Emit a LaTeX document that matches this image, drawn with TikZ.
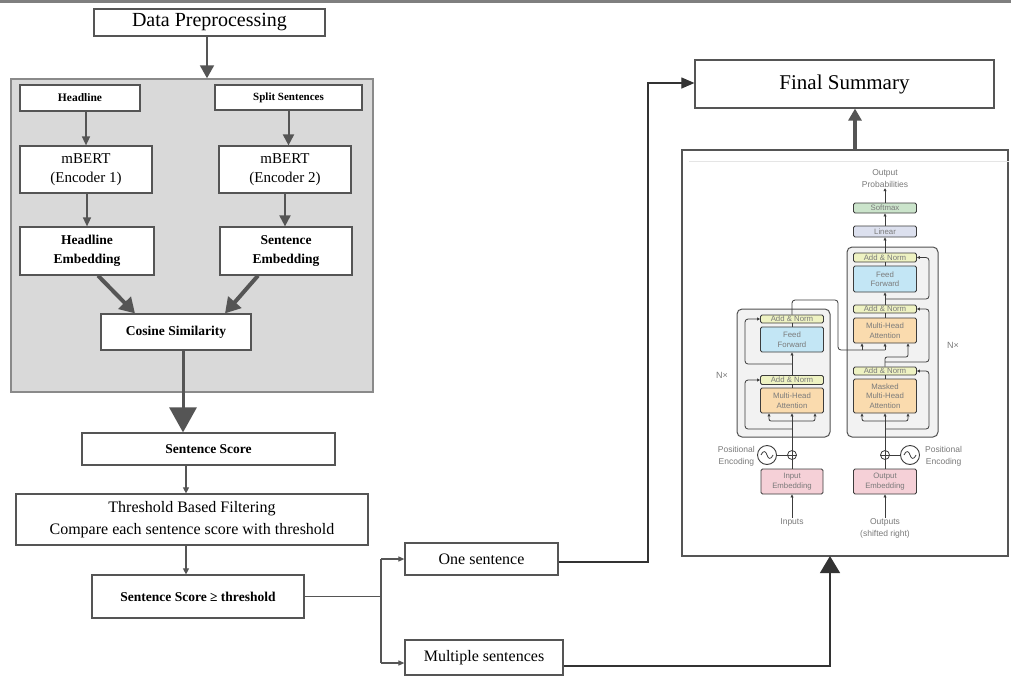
\documentclass[tikz,border=0pt]{standalone}
\usepackage{fontspec}
\setmainfont{Liberation Serif}
\setsansfont{Liberation Sans}
\usetikzlibrary{arrows.meta}
\definecolor{edge}{HTML}{555555}
\definecolor{framefill}{HTML}{D9D9D9}
\definecolor{frameedge}{HTML}{8A8A8A}
\definecolor{band}{HTML}{7F7F7F}
\definecolor{tgray}{HTML}{7A7A7A}
\definecolor{tedge}{HTML}{3C3C3C}
\definecolor{cAN}{HTML}{EEF2C2}
\definecolor{cFF}{HTML}{C3E6F5}
\definecolor{cMHA}{HTML}{FADBAE}
\definecolor{cLin}{HTML}{DCE0EE}
\definecolor{cSoft}{HTML}{CBE4CB}
\definecolor{cEmb}{HTML}{F5D0D7}
\definecolor{cOuter}{HTML}{F2F2F2}
\tikzset{
  box/.style={draw=edge, line width=1.2pt, fill=white, inner sep=1pt, align=center},
  arrA/.style={draw=edge, line width=2pt, -{Triangle[width=14pt,length=13pt]}},
  arrThin/.style={draw=edge, line width=1.5pt, -{Triangle[width=8pt,length=9pt]}},
  arrMid/.style={draw=edge, line width=2pt, -{Triangle[width=11pt,length=11pt]}},
  arrThick/.style={draw=edge, line width=4pt, -{Triangle[width=17pt,length=15pt]}},
  arrBig/.style={draw=edge, line width=3pt, -{Triangle[width=27pt,length=25pt]}},
  arrSm/.style={draw=edge, line width=1.1pt, -{Triangle[width=6pt,length=6pt]}},
  arrBr/.style={draw=edge, line width=1.1pt, -{Triangle[width=5pt,length=6pt]}},
  arrBlk/.style={draw=black!80, line width=1.1pt, -{Triangle[width=11pt,length=13pt]}},
  arrBlkBig/.style={draw=black!80, line width=1.3pt, -{Triangle[width=20pt,length=17pt]}},
  arrUp/.style={draw=edge, line width=3.5pt, -{Triangle[width=13pt,length=12pt]}},
  tblock/.style={draw=tedge, line width=0.9pt, rounded corners=1.5pt, inner sep=0pt,
     minimum width=63pt, align=center, text=tgray, font=\sffamily\fontsize{7.8}{9.5}\selectfont},
  touter/.style={draw=tedge!90, line width=1pt, rounded corners=5pt, fill=cOuter, inner sep=0pt},
  tlabel/.style={text=tgray, align=center, inner sep=0pt, font=\sffamily\fontsize{8.5}{12}\selectfont},
  tline/.style={draw=tedge, line width=0.8pt},
  tarr/.style={draw=tedge, line width=0.8pt, -{Triangle[width=3pt,length=3pt]}},
}
\begin{document}
\begin{tikzpicture}[x=1pt,y=-1pt]
\useasboundingbox (0,0) rectangle (1011,677);
\fill[white] (0,0) rectangle (1011,677);
\fill[band] (0,0) rectangle (1011,3);

% ---------- left pipeline ----------
\node[box, minimum width=231pt, minimum height=27pt, font=\fontsize{20}{22}\selectfont] (dp) at (209.5,22.5) {Data Preprocessing};
\node[draw=frameedge, fill=framefill, line width=1.5pt, minimum width=362pt, minimum height=313pt, inner sep=0pt] (frame) at (192,235.5) {};

\node[box, minimum width=120pt, minimum height=26pt, font=\bfseries\fontsize{11.5}{12}\selectfont] (hl) at (80,98) {Headline};
\node[box, minimum width=147pt, minimum height=25pt, font=\bfseries\fontsize{11}{12}\selectfont] (ss) at (288.5,97.5) {Split Sentences};
\node[box, minimum width=132pt, minimum height=47pt, font=\fontsize{15}{19}\selectfont] (m1) at (86,169.5) {mBERT\\(Encoder 1)};
\node[box, minimum width=132pt, minimum height=47pt, font=\fontsize{15}{19}\selectfont] (m2) at (285,169.5) {mBERT\\(Encoder 2)};
\node[box, minimum width=134pt, minimum height=48pt, font=\bfseries\fontsize{13.5}{19}\selectfont] (he) at (87,251) {Headline\\Embedding};
\node[box, minimum width=132pt, minimum height=48pt, font=\bfseries\fontsize{13.5}{19}\selectfont] (se) at (286,251) {Sentence\\Embedding};
\node[box, minimum width=150pt, minimum height=36pt, font=\bfseries\fontsize{13.5}{14}\selectfont] (cs) at (176,332) {Cosine Similarity};
\node[box, minimum width=253pt, minimum height=32pt, font=\bfseries\fontsize{13.5}{14}\selectfont] (sc) at (208.5,449) {Sentence Score};
\node[box, minimum width=352pt, minimum height=51pt, font=\fontsize{16}{22}\selectfont] (th) at (192,519.5) {Threshold Based Filtering\\Compare each sentence score with threshold};
\node[box, minimum width=212pt, minimum height=43pt, font=\bfseries\fontsize{13.5}{14}\selectfont] (ge) at (198,596.5) {Sentence Score ≥ threshold};
\node[box, minimum width=153pt, minimum height=32pt, font=\fontsize{16}{19}\selectfont] (one) at (481.5,559) {One sentence};
\node[box, minimum width=158pt, minimum height=35pt, font=\fontsize{16}{19}\selectfont] (mul) at (484,657.5) {Multiple sentences};
\node[box, minimum width=299pt, minimum height=48pt, font=\fontsize{21}{24}\selectfont] (fs) at (844.5,84) {Final Summary};
\node[box, minimum width=326pt, minimum height=406pt] (tr) at (845,353) {};
\draw[black!10, line width=0.8pt] ([xshift=8pt,yshift=-12pt]tr.north west) -- ([yshift=-12pt]tr.north east);

% left arrows
\draw[arrA] ([xshift=-2.5pt]dp.south) -- ([xshift=-2.5pt]dp.south |- frame.north);
\draw[arrThin] (hl.south -| m1.north) -- (m1.north);
\draw[arrMid] (ss.south) -- (ss.south |- m2.north);
\draw[arrThin] ([xshift=1pt]m1.south) -- ([xshift=1pt]m1.south |- he.north);
\draw[arrMid] (m2.south) -- (m2.south |- se.north);
\draw[arrThick] ([xshift=11pt]he.south) -- ([xshift=-41pt]cs.north);
\draw[arrThick] ([xshift=-28pt]se.south) -- ([xshift=49pt]cs.north);
\draw[arrBig] ([xshift=7pt]cs.south) -- ([xshift=7pt]cs.south |- sc.north);
\draw[arrSm] ([xshift=-22.5pt]sc.south) -- ([xshift=-22.5pt]sc.south |- th.north);
\draw[arrSm] ([xshift=-6pt]th.south) -- ([xshift=-6pt]th.south |- ge.north);

% branch
\coordinate (br) at (381,596.5);
\coordinate (brTop) at (381,559);
\coordinate (brBot) at (381,663);
\draw[draw=edge, line width=1.1pt] (ge.east) -- (br);
\draw[draw=edge, line width=1.1pt] (brTop) -- (brBot);
\draw[arrBr] (brTop) -- (one.west);
\draw[arrBr] (brBot) -- (brBot -| mul.west);
\coordinate (j1) at (648,83);
\draw[arrBlk] ([yshift=-3pt]one.east) -| (j1) -- (j1 -| fs.west);
\coordinate (j2) at (830,556);
\draw[arrBlkBig] ([yshift=-8.5pt]mul.east) -| (j2);
\draw[arrUp] ([xshift=10pt]tr.north) -- ([xshift=10pt]tr.north |- fs.south);

% ---------- transformer ----------
\node[touter, minimum width=93pt, minimum height=128pt] (encBox) at (783.5,373) {};
\node[touter, minimum width=91pt, minimum height=190pt] (decBox) at (892.5,342) {};

% encoder blocks
\node[tblock, fill=cAN, minimum height=8pt] (encAN2) at (792,319) {Add \& Norm};
\node[tblock, fill=cFF, minimum height=25pt] (encFF) at (792,339.5) {Feed\\Forward};
\node[tblock, fill=cAN, minimum height=9pt] (encAN1) at (792,380) {Add \& Norm};
\node[tblock, fill=cMHA, minimum height=25pt] (encMHA) at (792,400.5) {Multi-Head\\Attention};
\node[tblock, fill=cEmb, minimum height=25pt, minimum width=62pt] (inEmb) at (792,481.5) {Input\\Embedding};
\node[draw=tedge, line width=0.8pt, circle, minimum size=9pt, inner sep=0pt] (inPlus) at (792,455) {};
\draw[tline] (inPlus.north) -- (inPlus.south) (inPlus.west) -- (inPlus.east);
\node[draw=tedge, line width=0.9pt, circle, minimum size=19pt, inner sep=0pt] (inSin) at (767,455) {};
\draw[tline] ([xshift=-6pt]inSin.center) .. controls ([xshift=-3pt,yshift=6pt]inSin.center) and ([xshift=-1pt,yshift=3pt]inSin.center) .. (inSin.center) .. controls ([xshift=1pt,yshift=-3pt]inSin.center) and ([xshift=3pt,yshift=-6pt]inSin.center) .. ([xshift=6pt]inSin.center);
\node[tlabel, anchor=east] (inPE) at (755,456) {Positional\\Encoding};
\node[tlabel] (inputs) at (792,522) {Inputs};
\node[tlabel, font=\sffamily\fontsize{9}{10}\selectfont] (encN) at (722,375) {N×};

% decoder blocks
\node[tblock, fill=cSoft, minimum height=10pt] (soft) at (885,208) {Softmax};
\node[tblock, fill=cLin, minimum height=11pt] (lin) at (885,231.5) {Linear};
\node[tblock, fill=cAN, minimum height=9pt] (decAN3) at (885,257.5) {Add \& Norm};
\node[tblock, fill=cFF, minimum height=26pt] (decFF) at (885,279) {Feed\\Forward};
\node[tblock, fill=cAN, minimum height=8pt] (decAN2) at (885,309) {Add \& Norm};
\node[tblock, fill=cMHA, minimum height=25pt] (decMHA) at (885,330.5) {Multi-Head\\Attention};
\node[tblock, fill=cAN, minimum height=8pt] (decAN1) at (885,371) {Add \& Norm};
\node[tblock, fill=cMHA, minimum height=34pt] (decMMHA) at (885,396) {Masked\\Multi-Head\\Attention};
\node[tblock, fill=cEmb, minimum height=25pt] (outEmb) at (885,481.5) {Output\\Embedding};
\node[draw=tedge, line width=0.8pt, circle, minimum size=9pt, inner sep=0pt] (outPlus) at (885,455) {};
\draw[tline] (outPlus.north) -- (outPlus.south) (outPlus.west) -- (outPlus.east);
\node[draw=tedge, line width=0.9pt, circle, minimum size=19pt, inner sep=0pt] (outSin) at (910,455) {};
\draw[tline] ([xshift=-6pt]outSin.center) .. controls ([xshift=-3pt,yshift=6pt]outSin.center) and ([xshift=-1pt,yshift=3pt]outSin.center) .. (outSin.center) .. controls ([xshift=1pt,yshift=-3pt]outSin.center) and ([xshift=3pt,yshift=-6pt]outSin.center) .. ([xshift=6pt]outSin.center);
\node[tlabel, anchor=west] (outPE) at (925,456) {Positional\\Encoding};
\node[tlabel] (outputs) at (885,528) {Outputs\\(shifted right)};
\node[tlabel] (outProb) at (885,179) {Output\\Probabilities};
\node[tlabel, font=\sffamily\fontsize{9}{10}\selectfont] (decN) at (953,345) {N×};

% encoder connections
\draw[tarr] (inputs.north) -- (inEmb.south);
\draw[tline] (inEmb.north) -- (inPlus.south);
\draw[tline] (inSin.east) -- (inPlus.west);
\draw[tarr] (inPlus.north) -- (encMHA.south);
\coordinate (eS) at (792,421);
\draw[tarr, rounded corners=2pt] (eS) -| ([xshift=-23pt]encMHA.south);
\draw[tarr, rounded corners=2pt] (eS) -| ([xshift=23pt]encMHA.south);
\coordinate (eR1) at (792,429);
\draw[tarr, rounded corners=3pt] (eR1) -- (745,429) -- (745,380) -- (encAN1.west);
\draw[tarr] (encAN1.north) -- (encFF.south);
\coordinate (eR2) at (792,364);
\draw[tarr, rounded corners=3pt] (eR2) -- (745,364) -- (745,319) -- (encAN2.west);
\draw[tline] (encFF.north) -- (encAN2.south);
\draw[tline] (encMHA.north) -- (encAN1.south);
\coordinate (eO) at (862,350);
\draw[tline, rounded corners=3pt] (encAN2.north) -- (792,300) -- (838,300) -- (838,350) -- (885,350);
\draw[tarr] (eO) -- ([xshift=-23pt]decMHA.south);
\draw[tarr] (decMHA.south |- eO) -- (decMHA.south);

% decoder connections
\draw[tarr] (outputs.north) -- (outEmb.south);
\draw[tline] (outEmb.north) -- (outPlus.south);
\draw[tline] (outSin.west) -- (outPlus.east);
\draw[tarr] (outPlus.north) -- (decMMHA.south);
\coordinate (dS) at (885,421);
\draw[tarr, rounded corners=2pt] (dS) -| ([xshift=-23pt]decMMHA.south);
\draw[tarr, rounded corners=2pt] (dS) -| ([xshift=23pt]decMMHA.south);
\coordinate (dR1) at (885,429);
\draw[tarr, rounded corners=3pt] (dR1) -- (929,429) -- (929,371) -- (decAN1.east);
\draw[tline] (decMMHA.north) -- (decAN1.south);
\draw[tarr, rounded corners=2pt] (decAN1.north) -- (885,357) -- (908,357) -- ([xshift=23pt]decMHA.south);
\coordinate (dR2) at (885,362);
\draw[tarr, rounded corners=3pt] (dR2) -- (929,362) -- (929,309) -- (decAN2.east);
\draw[tline] (decMHA.north) -- (decAN2.south);
\draw[tarr] (decAN2.north) -- (decFF.south);
\coordinate (dR3) at (885,299);
\draw[tarr, rounded corners=3pt] (dR3) -- (929,299) -- (929,257.5) -- (decAN3.east);
\draw[tline] (decFF.north) -- (decAN3.south);
\draw[tarr] (decAN3.north) -- (lin.south);
\draw[tarr] (lin.north) -- (soft.south);
\draw[tarr] (soft.north) -- (outProb.south);
\end{tikzpicture}
\end{document}
